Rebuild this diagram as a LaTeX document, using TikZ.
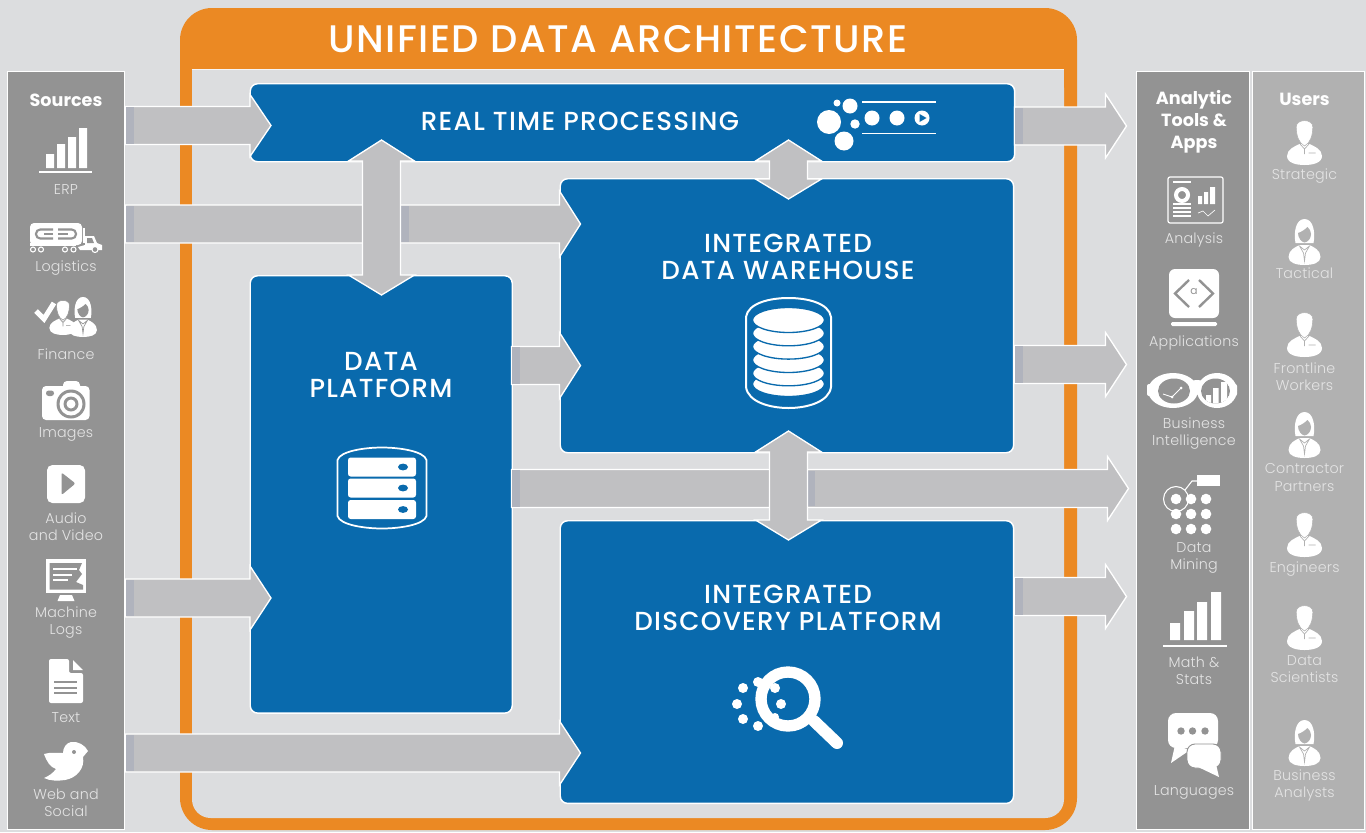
\documentclass[tikz,border=0pt]{standalone}
\usepackage{fontspec}
\setmainfont{Poppins}
\newfontfamily\lightf[LetterSpace=1.5]{Poppins Light}
\newfontfamily\titlef[LetterSpace=4]{Poppins Medium}
\newfontfamily\bigf[LetterSpace=5]{Poppins Medium}
\usetikzlibrary{calc}
\definecolor{bgc}{HTML}{DCDDDF}
\definecolor{orangec}{HTML}{EB8923}
\definecolor{bluec}{HTML}{096AAD}
\definecolor{panela}{HTML}{939393}
\definecolor{panelb}{HTML}{B1B1B1}
\definecolor{arrowc}{HTML}{C0C0C2}
\definecolor{startc}{HTML}{B0B3BD}
\definecolor{labelc}{HTML}{E4E4E4}
\colorlet{iconbg}{panela}
\tikzset{
 panel/.style={draw=white,line width=1.1pt,anchor=north west,inner sep=0pt},
 bluebox/.style={fill=bluec,draw=white,line width=1.1pt,rounded corners=5.5pt,anchor=north west,inner sep=0pt},
 blockarrow/.style={fill=arrowc,draw=white,line width=1pt,line join=miter},
 startbar/.style={fill=startc,draw=none},
 lab/.style={text=labelc,font=\lightf\fontsize{10.7}{12.8}\selectfont,align=center,inner sep=0pt},
 head/.style={text=white,font=\bfseries\fontsize{13.2}{16.5}\selectfont,align=center,inner sep=0pt},
 big/.style={text=white,font=\bigf\fontsize{19.6}{20}\selectfont,align=center,inner sep=0pt},
 bgline/.style={draw=iconbg,line width=.8pt},
 man/.pic={
  \fill[white] (-17.5,-9) .. controls (-17.5,-16) and (-9,-19) .. (-5,-21) -- (5,-21) .. controls (9,-19) and (17.5,-16) .. (17.5,-9) .. controls (17.5,-2) and (8,0) .. (0,0) .. controls (-8,0) and (-17.5,-2) .. (-17.5,-9) -- cycle;
  \draw[fill=white,draw=iconbg,line width=.4pt] (-8.3,-38) .. controls (-8.5,-46.5) and (8.5,-46.5) .. (8.3,-38) .. controls (8.2,-30) and (6,-22) .. (0,-19) .. controls (-6,-22) and (-8.2,-30) .. (-8.3,-38) -- cycle;
  \draw[bgline,line width=.5pt] (-4.5,-21) -- (0,-16) -- (4.5,-21) (0,-16) -- (0,-11) (4,-12) -- (11,-12);
 },
 woman/.pic={
  \fill[white] (-16,-8) .. controls (-16,-15) and (-9,-18) .. (-5,-20) -- (5,-20) .. controls (9,-18) and (16,-15) .. (16,-8) .. controls (16,-2) and (8,0) .. (0,0) .. controls (-8,0) and (-16,-2) .. (-16,-8) -- cycle;
  \fill[white] (-9,-22) .. controls (-11,-32) and (-9,-46) .. (0,-46) .. controls (9,-46) and (11,-32) .. (9,-22) -- cycle;
  \fill[iconbg] (-6.5,-32) .. controls (-3,-33) and (1,-36) .. (3,-38) .. controls (5,-36) and (6.5,-34) .. (6.5,-31) .. controls (6.5,-26) and (3,-23) .. (0,-22.5) .. controls (-3,-23) and (-6.5,-27) .. (-6.5,-32) -- cycle;
  \draw[bgline,line width=.5pt] (-5,-19) -- (-1,-12) -- (0,-4) -- (1,-12) -- (5,-19) -- (0,-15) -- cycle;
 }
}
\newcommand{\blockarr}[3]{%
 \draw[blockarrow] (#1)++(0,-19) -- ($(#2)+(-21,-19)$) -- ($(#2)+(-21,-#3)$) -- (#2) -- ($(#2)+(-21,#3)$) -- ($(#2)+(-21,19)$) -- ($(#1)+(0,19)$) -- cycle;
 \fill[startbar] ($(#1)+(.8,-18.4)$) rectangle ($(#1)+(8,18.4)$);
}
\newcommand{\doublearr}[2]{%
 \draw[blockarrow] (#1) -- ($(#1)+(33,21)$) -- ($(#1)+(19,21)$) -- ($(#2)+(19,-20)$) -- ($(#2)+(33,-20)$) -- (#2) -- ($(#2)+(-33,-20)$) -- ($(#2)+(-19,-20)$) -- ($(#1)+(-19,21)$) -- ($(#1)+(-33,21)$) -- cycle;
}
\begin{document}
\begin{tikzpicture}[x=0.75pt,y=-0.75pt]
\useasboundingbox (0,0) rectangle (1366,832);
\fill[bgc] (0,0) rectangle (1366,832);
\fill[orangec,rounded corners=24pt] (180,8) rectangle (1077,830);
\fill[bgc,rounded corners=14pt] (192,69) -- (1064,69) -- (1064,818) -- (192,818) -- cycle;
\fill[bgc] (192,69) rectangle (1064,100);
\draw[white!70!bgc,line width=.6pt] (192,69) -- (1064,69);
\node[text=white,font=\titlef\fontsize{28.8}{30}\selectfont,inner sep=0pt] (title) at (618,39) {UNIFIED DATA ARCHITECTURE};
\node[panel,fill=panela,minimum width=87.8pt,minimum height=568.5pt] (srcp) at (6.5,71) {};
\node[panel,fill=panela,minimum width=85pt,minimum height=568.5pt] (anap) at (1135.5,71) {};
\node[panel,fill=panelb,minimum width=84pt,minimum height=568.5pt] (usrp) at (1252,71) {};
\node[bluebox,minimum width=573.3pt,minimum height=58.5pt] (rt) at (249.5,83) {};
\node[bluebox,minimum width=196.5pt,minimum height=328pt] (dp) at (249.5,275) {};
\node[bluebox,minimum width=340pt,minimum height=205.5pt] (dw) at (559.5,178) {};
\node[bluebox,minimum width=340pt,minimum height=212pt] (dd) at (559.5,520) {};
\coordinate (a1s) at (125.5,125.5); \coordinate (a1t) at (271,125.5);
\coordinate (a2s) at (125.5,224); \coordinate (a2t) at (580.5,224);
\coordinate (a3s) at (511.5,365.5); \coordinate (a3t) at (580.5,365.5);
\coordinate (a4s) at (511.5,488.5); \coordinate (a4t) at (1128.5,488.5);
\coordinate (a5s) at (125.5,598); \coordinate (a5t) at (271,598);
\coordinate (a6s) at (125.5,753); \coordinate (a6t) at (580.5,753);
\coordinate (r1s) at (1014.5,126); \coordinate (r1t) at (1126.5,126);
\coordinate (r2s) at (1014.5,364.5); \coordinate (r2t) at (1126.5,364.5);
\coordinate (r3s) at (1014.5,596.5); \coordinate (r3t) at (1126.5,596.5);
\blockarr{a1s}{a1t}{31}
\blockarr{a2s}{a2t}{33}
\blockarr{a3s}{a3t}{33}
\blockarr{a4s}{a4t}{32}
\blockarr{a5s}{a5t}{32}
\blockarr{a6s}{a6t}{32}
\blockarr{r1s}{r1t}{32}
\blockarr{r2s}{r2t}{32}
\blockarr{r3s}{r3t}{32}
\fill[startbar] (401,205.6) rectangle (409,242.4);
\fill[startbar] (808,470.6) rectangle (815,506.4);
\coordinate (v1a) at (381.5,140); \coordinate (v1b) at (381.5,295);
\coordinate (v2a) at (788.5,140); \coordinate (v2b) at (788.5,199);
\coordinate (v3a) at (788.5,431); \coordinate (v3b) at (788.5,540);
\doublearr{v1a}{v1b}
\doublearr{v2a}{v2b}
\doublearr{v3a}{v3b}
\node[big] (rtt) at (580,121) {REAL TIME PROCESSING};
\node[big] (dpt) at (381,375) {DATA\\PLATFORM};
\node[big] (dwt) at (788,257) {INTEGRATED\\DATA WAREHOUSE};
\node[big] (ddt) at (788,608) {INTEGRATED\\DISCOVERY PLATFORM};
\fill[white] (829,122) circle[radius=12] (850,106) circle[radius=7.5] (837,103) circle[radius=3.5] (855,124) circle[radius=4.7] (844,141) circle[radius=9.5] (872,118) circle[radius=7.5] (897,118) circle[radius=7.5] (922,118) circle[radius=7.5];
\fill[bluec] (919.5,114) -- (926.5,118) -- (919.5,122) -- cycle;
\draw[white,line width=.8pt] (862,102) -- (936,102) (862,133.5) -- (936,133.5);
\draw[white,line width=1.5pt] (746,317) .. controls (748,303) and (770,298) .. (788.5,298) .. controls (807,298) and (829,303) .. (831,317) -- (831,387) .. controls (829,402) and (807,408) .. (788.5,408) .. controls (770,408) and (748,402) .. (746,387) -- cycle;
\foreach \yy in {384,373.3,360,346.6,333.3,320}{
 \draw[fill=white,draw=bluec,line width=1pt] (788.5,\yy) ellipse[x radius=36,y radius=12.5];
}
\draw[white,line width=1.3pt] (337.5,460) .. controls (340,451) and (365,447.5) .. (382,447.5) .. controls (399,447.5) and (424,451) .. (426.5,460) -- (426.5,516) .. controls (424,525) and (399,528.5) .. (382,528.5) .. controls (365,528.5) and (340,525) .. (337.5,516) -- cycle;
\foreach \yy in {457.5,478.5,500}{
 \fill[white,rounded corners=2pt] (348,\yy) rectangle (416,\yy+19);
 \fill[bluec] (403,\yy+9.5) ellipse[x radius=5,y radius=3.4];
}
\draw[white,line width=9pt,line cap=round] (814,721) -- (837,743);
\draw[white,line width=8.5pt] (788,699) circle[radius=27];
\fill[white] (743,688) circle[radius=5] (737,704) circle[radius=5] (743,719) circle[radius=5] (758,726) circle[radius=5] (758,682) circle[radius=5] (775,688) circle[radius=5] (781,704) circle[radius=5] (775,717) circle[radius=4];
% sources
\fill[white] (46,154) rectangle (54,168) (57,144) rectangle (65,168) (68,137) rectangle (76,168) (79,128) rectangle (87,168);
\draw[white,line width=.8pt] (39,172) -- (92,172);
\node[head] (srcs) at (66,100) {Sources};
\node[lab] (l1) at (66,190) {ERP};
\fill[white,rounded corners=3pt] (30,223) rectangle (82,245);
\fill[white] (30,243) rectangle (76,246);
\draw[iconbg,line width=1.6pt,rounded corners=3.2pt] (53,229.5) -- (36,229.5) -- (36,238.5) -- (53,238.5);
\draw[iconbg,line width=1.6pt,rounded corners=3.2pt] (58,229.5) -- (76,229.5) -- (76,238.5) -- (58,238.5);
\draw[iconbg,line width=1.6pt] (44,234) -- (53,234) (58,234) -- (68,234);
\draw[white,line width=.9pt] (84,228) -- (84,243);
\fill[white] (85,236) -- (94,236) -- (97,243) -- (102,245) -- (102,250) -- (80,250) -- (78,247) -- (85,245) -- cycle;
\fill[iconbg] (87,238) -- (92,238) -- (94,243) -- (87,243) -- cycle;
\draw[white,line width=.8pt,fill=iconbg] (33,249.5) circle[radius=2.5] (41,249.5) circle[radius=2.5] (65,249.5) circle[radius=2.5] (73.5,249.5) circle[radius=2.5] (95,249.5) circle[radius=3];
\node[lab] (l2) at (66,268) {Logistics};
\draw[white,line width=3.8pt] (36,311) -- (44,319) -- (54,303);
\pic[scale=.78] at (63,335) {man};
\pic[scale=.87] at (83,337) {woman};
\node[lab] (l3) at (66,354.5) {Finance};
\fill[white,rounded corners=3pt] (42,386) rectangle (89.5,420);
\fill[white,rounded corners=3pt] (63,381) rectangle (80,392);
\fill[iconbg] (71,404) circle[radius=14.5];
\fill[white] (71,404) circle[radius=11.5];
\fill[iconbg] (71,404) circle[radius=7.5];
\fill[white] (71,404) circle[radius=4.5];
\fill[iconbg,rounded corners=2pt] (46,390.5) rectangle (54,396);
\node[lab] (l4) at (66,434.5) {Images};
\fill[white,rounded corners=4pt] (47,465) rectangle (85,503);
\fill[iconbg,rounded corners=1.5pt] (61.5,472.5) -- (75.5,483.5) -- (61.5,495) -- cycle;
\node[lab] (l5) at (66,526.5) {Audio\\and Video};
\fill[white] (46,559) rectangle (86,593);
\fill[iconbg] (49.5,563) -- (82,563) -- (79,570) -- (82,574) -- (76,582) -- (83,585) -- (83,589.5) -- (49.5,589.5) -- cycle;
\draw[white,line width=.9pt] (53,569) -- (77,569) (53,575) -- (72,575) (53,580) -- (68,580);
\fill[white] (60,595) -- (72,595) -- (74.5,601) -- (57.5,601) -- cycle;
\node[lab] (l6) at (66,622.5) {Machine\\Logs};
\fill[white,rounded corners=1.5pt] (49,659) -- (69,659) -- (69,673) -- (83,673) -- (83,703) -- (49,703) -- cycle;
\fill[white] (73,660) -- (83,670) -- (73,670) -- cycle;
\draw[iconbg,line width=1.8pt] (54,682) -- (77,682) (54,688) -- (77,688) (54,693) -- (77,693);
\node[lab] (l7) at (66,717.5) {Text};
\fill[white] (88,751) .. controls (85,745) and (78,741) .. (71,742) .. controls (66,743) and (63,748) .. (63,753) .. controls (58,753) and (50,752) .. (44,754) .. controls (47,762) and (50,767) .. (56,769) .. controls (53,773) and (49,776) .. (44,778) .. controls (50,781) and (58,781) .. (65,780) .. controls (77,778) and (85,768) .. (83,757) -- cycle;
\fill[iconbg] (74,752) circle[radius=2];
\node[lab] (l8) at (66,803) {Web and\\Social};
% analytics
\node[head] (anah) at (1194,121.5) {Analytic\\Tools \&\\Apps};
\draw[white,line width=.9pt,rounded corners=1.5pt] (1168,177) rectangle (1223,223);
\draw[white,line width=1.1pt] (1173,182) -- (1191,182) (1173,204) -- (1191,204) (1173,208) -- (1191,208) (1173,212) -- (1191,212) (1173,216) -- (1191,216);
\draw[white,line width=3pt] (1182,195) circle[radius=6];
\fill[white] (1198,196) rectangle (1202,204) (1204,192) rectangle (1208,204) (1210,187) rectangle (1215,204);
\draw[white,line width=.5pt] (1198,213) -- (1203,211) -- (1208,216) -- (1215,210);
\node[lab] (a1) at (1194,240) {Analysis};
\fill[white,rounded corners=4.5pt] (1169,269) rectangle (1219,318);
\fill[white,rounded corners=1pt] (1171,322) rectangle (1217,326);
\draw[iconbg,line width=1.8pt] (1189,280) -- (1175,293.5) -- (1189,307) (1199,280) -- (1213,293.5) -- (1199,307);
\node[text=iconbg,font=\fontsize{8}{8}\selectfont,inner sep=0pt] (aa) at (1194,292) {a};
\node[lab] (a2) at (1194,342.5) {Applications};
\fill[white] (1173,390.5) ellipse[x radius=25,y radius=17.5] (1217,390.5) ellipse[x radius=20,y radius=17.5] (1197,385) ellipse[x radius=10,y radius=5];
\fill[white,rounded corners=1.5pt] (1147,384) rectangle (1152,396) (1232,384) rectangle (1237,396);
\fill[iconbg] (1174,391) ellipse[x radius=16,y radius=12.5];
\begin{scope}
\clip (1215.5,391) ellipse[x radius=14.5,y radius=12.5];
\fill[iconbg] (1215.5,391) ellipse[x radius=14.5,y radius=12.5];
\fill[white] (1206,395) rectangle (1211,404) (1213,388) rectangle (1218.5,404) (1221,382) rectangle (1227,404);
\end{scope}
\draw[white,line width=.6pt] (1163,394) -- (1172,397) -- (1181,388);
\fill[white] (1172,397) circle[radius=1.5] (1181,388) circle[radius=1.5];
\node[lab] (a3) at (1194,433.5) {Business\\Intelligence};
\foreach \xx in {1176,1191,1206}{\foreach \yy in {499,514,529}{\fill[white] (\xx,\yy) circle[radius=5.3];}}
\draw[white,line width=.8pt] (1176,499) circle[radius=12.5];
\draw[white,line width=.8pt] (1185,490) -- (1192,481) -- (1197,481);
\fill[white] (1197,475) rectangle (1220,486);
\node[lab] (a4) at (1194,558) {Data\\Mining};
\fill[white] (1170,623) rectangle (1180,640) (1184,611) rectangle (1194,640) (1197,602) rectangle (1207,640) (1211,592) rectangle (1221,640);
\draw[white,line width=1pt] (1163,646) -- (1227,646);
\node[lab] (a5) at (1194,671) {Math \&\\Stats};
\fill[white,rounded corners=6pt] (1168,713) rectangle (1218,748);
\fill[white] (1175,745) -- (1171,763) -- (1190,750) -- cycle;
\draw[fill=white,draw=iconbg,line width=.7pt,rounded corners=6pt] (1187,744) rectangle (1221,768);
\fill[white] (1196,766) -- (1219,777) -- (1215,760) -- cycle;
\fill[iconbg] (1181,731) circle[radius=3.7] (1192.5,731) circle[radius=3.7] (1205,731) circle[radius=3.7];
\node[lab] (a6) at (1194,792.5) {Languages};
% users
\colorlet{iconbg}{panelb}
\node[head] (usrh) at (1304.5,99) {Users};
\pic at (1304.5,165) {man};
\node[lab] (u1) at (1304.5,176) {Strategic};
\pic at (1304.5,265) {woman};
\node[lab] (u2) at (1304.5,273.5) {Tactical};
\pic at (1304.5,357) {man};
\node[lab] (u3) at (1304.5,376.5) {Frontline\\Workers};
\pic at (1304.5,458) {woman};
\node[lab] (u4) at (1304.5,477.5) {Contractor\\Partners};
\pic at (1304.5,557) {man};
\node[lab] (u5) at (1304.5,569) {Engineers};
\pic at (1304.5,650) {man};
\node[lab] (u6) at (1304.5,669) {Data\\Scientists};
\pic at (1304.5,766) {woman};
\node[lab] (u7) at (1304.5,785) {Business\\Analysts};
\end{tikzpicture}
\end{document}
